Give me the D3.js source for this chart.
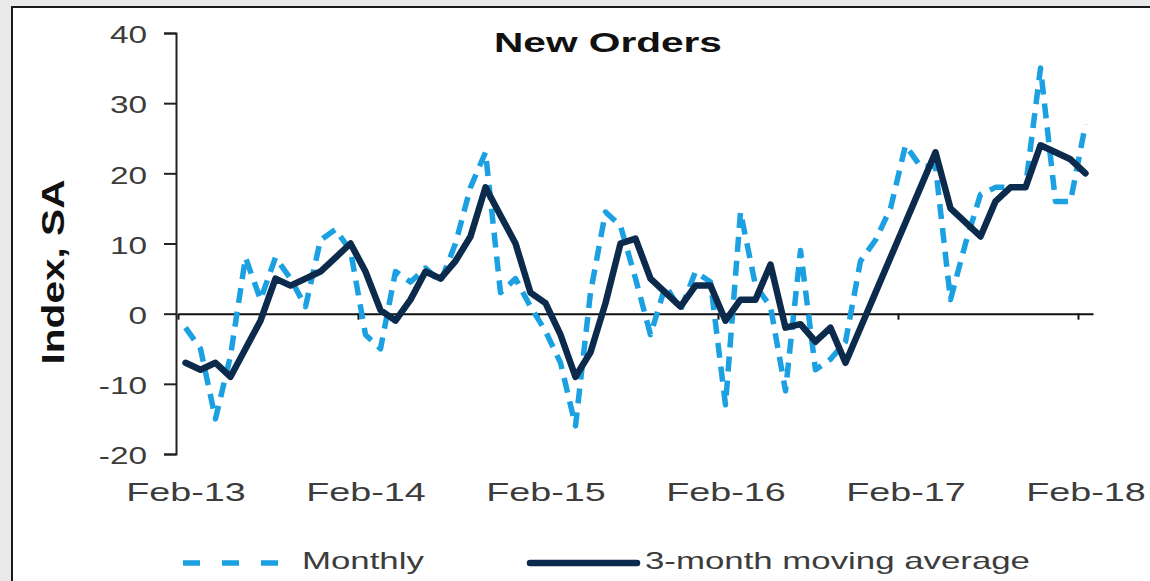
<!DOCTYPE html>
<html>
<head>
<meta charset="utf-8">
<script src="https://cdn.jsdelivr.net/npm/d3@7"></script>
<style>
  body { margin: 0; background: #e9e9e9; }
  svg { display: block; font-family: "Liberation Sans", Arial, sans-serif; }
</style>
</head>
<body>
<svg id="chart" width="1150" height="581"></svg>
<script>
// months Feb-13 .. Feb-18
var months = d3.timeMonths(new Date(2013, 1, 1), new Date(2018, 2, 1));

var monthly = [-2, -5, -15, -6, 8, 2, 8, 5, 1, 10.5, 12,
               9, -3, -5, 6, 4.5, 6.5, 4.5, 10, 18, 23,
               3, 5, 1, -2.5, -7, -16, 3, 14.5, 12.5, 5,
               -3, 4, 0.5, 6, 4.5, -13, 14.5, 4, 1, -11,
               9, -8, -6.5, -4, 7.5, 10.5, 15, 24, 21, 21,
               2, 10, 17, 18, 18, 18, 35, 16, 16, 27];

var avg3 = [-7, -8, -7, -9, -5, -1, 5, 4, 5, 6, 8,
            10, 6, 0.5, -1, 2, 6, 5, 7.5, 11, 18,
            14, 10, 3, 1.5, -3, -9, -5.5, 1.5, 10, 10.7,
            5, 3, 1, 4, 4, -1, 2, 2, 7, -2,
            -1.5, -4, -2, -7, -2, 3, 8, 13, 18, 23,
            15, 13, 11, 16, 18, 18, 24, 23, 22, 20];

var yTicks = [-20, -10, 0, 10, 20, 30, 40];
var yearIdx = [0, 12, 24, 36, 48, 60];   // Feb of each year
var seriesNames = ["Monthly", "3-month moving average"];

var cLight = "#1ba1e2", cDark = "#0b2a4c";
var sx = 1.45;   // text in the picture is drawn wide

var svg = d3.select("#chart");
var fmt = d3.timeFormat("%b-%y");

// stretch a text horizontally
function widen(sel, k) {
  sel.each(function () {
    var w = this.getComputedTextLength();
    d3.select(this).attr("textLength", w * k).attr("lengthAdjust", "spacingAndGlyphs");
  });
}

// panel
svg.append("rect").attr("x", 0).attr("y", 0).attr("width", 1150).attr("height", 581).attr("fill", "#e9e9e9");
svg.append("rect")
  .attr("x", 12).attr("y", 7).attr("width", 1160).attr("height", 600)
  .attr("fill", "#fff").attr("stroke", "#1a1a1a").attr("stroke-width", 2);

var xi = d3.scaleLinear().domain([0, months.length]).range([178, 1093]);
var y = d3.scaleLinear().domain([-20, 40]).range([454, 33]);

// y axis
var gy = svg.append("g").attr("transform", "translate(176,0)")
  .call(d3.axisLeft(y).tickValues(yTicks).tickSize(12).tickPadding(17).tickFormat(function (d) { return String(d); }));
gy.select(".domain").attr("stroke", "#222").attr("stroke-width", 2);
gy.selectAll(".tick line").attr("stroke", "#222").attr("stroke-width", 2);
gy.selectAll(".tick text").attr("font-size", 23).attr("fill", "#3c3c3c").attr("dy", "0.42em").call(widen, sx);

// zero line with yearly ticks
var gx = svg.append("g").attr("transform", "translate(0," + y(0) + ")")
  .call(d3.axisBottom(xi).tickValues(yearIdx).tickSize(6).tickSizeOuter(0).tickFormat(""));
gx.select(".domain").attr("stroke", "#111").attr("stroke-width", 2);
gx.selectAll(".tick line").attr("stroke", "#111").attr("stroke-width", 2);

// x labels along the bottom
var gl = svg.append("g").attr("transform", "translate(0," + y(-20) + ")")
  .call(d3.axisBottom(xi).tickValues(yearIdx.map(function (i) { return i + 0.5; }))
    .tickSize(0).tickPadding(29).tickFormat(function (d) { return fmt(months[Math.floor(d)]); }));
gl.select(".domain").remove();
gl.selectAll(".tick text").attr("font-size", 26).attr("fill", "#3c3c3c").call(widen, sx);

// lines
var line = d3.line()
  .x(function (d, i) { return xi(i + 0.5); })
  .y(function (d) { return y(d); });

svg.append("path").datum(monthly)
  .attr("d", line).attr("fill", "none")
  .attr("stroke", cLight).attr("stroke-width", 5.5)
  .attr("stroke-dasharray", "15,9").attr("stroke-linejoin", "round");

svg.append("path").datum(avg3)
  .attr("d", line).attr("fill", "none")
  .attr("stroke", cDark).attr("stroke-width", 6.5)
  .attr("stroke-linejoin", "round").attr("stroke-linecap", "round");

// title
svg.append("text").attr("x", 608).attr("y", 52).attr("text-anchor", "middle")
  .attr("font-size", 28).attr("font-weight", "bold").attr("fill", "#111")
  .text("New Orders").call(widen, sx);

// y axis title
svg.append("text").attr("transform", "translate(64,272) rotate(-90)").attr("text-anchor", "middle")
  .attr("font-size", 32).attr("font-weight", "bold").attr("fill", "#111")
  .attr("textLength", 185).attr("lengthAdjust", "spacingAndGlyphs")
  .text("Index, SA");

// legend
var lg = svg.append("g");
lg.append("line").attr("x1", 183).attr("x2", 295).attr("y1", 563).attr("y2", 563)
  .attr("stroke", cLight).attr("stroke-width", 5.5).attr("stroke-dasharray", "17,22");
lg.append("text").attr("x", 302).attr("y", 569).attr("font-size", 24).attr("fill", "#3c3c3c")
  .text(seriesNames[0]).call(widen, sx);
lg.append("line").attr("x1", 530).attr("x2", 637).attr("y1", 563).attr("y2", 563)
  .attr("stroke", cDark).attr("stroke-width", 6.5).attr("stroke-linecap", "round");
lg.append("text").attr("x", 645).attr("y", 569).attr("font-size", 24).attr("fill", "#3c3c3c")
  .text(seriesNames[1]).call(widen, sx);
</script>
</body>
</html>
